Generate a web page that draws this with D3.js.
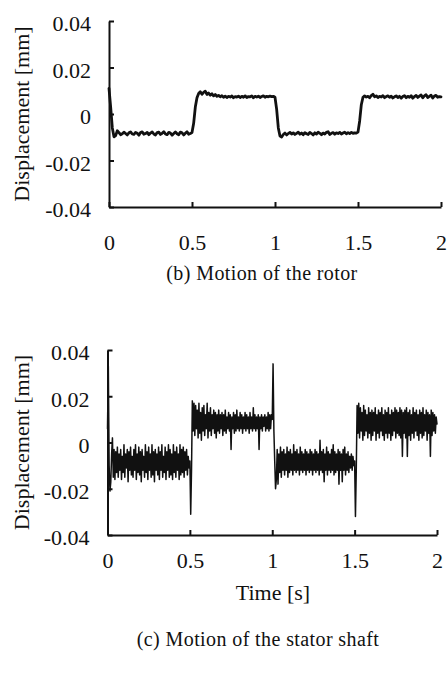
<!DOCTYPE html>
<html>
<head>
<meta charset="utf-8">
<script src="https://cdn.jsdelivr.net/npm/d3@7"></script>
<style>
  html, body { margin: 0; padding: 0; background: #fff; }
  svg { display: block; }
  text { font-family: "Liberation Serif", "Times New Roman", serif; fill: #111; }
</style>
</head>
<body>
<script>
// ---------------- DATA ----------------
const xTicks = [0, 0.5, 1, 1.5, 2];
const xTickLabels = ["0", "0.5", "1", "1.5", "2"];
const yTicks = [0.04, 0.02, 0, -0.02, -0.04];
const yTickLabels = ["0.04", "0.02", "0", "-0.02", "-0.04"];
const yLabel = "Displacement [mm]";
const xLabel = "Time [s]";
const captionB = "(b) Motion of the rotor";
const captionC = "(c) Motion of the stator shaft";

// (b) rotor displacement [mm], sampled every 0.01 s from 0 to 2 s
const rotorStep = 0.01;
const rotorValues = [
  0.011, 0.003, -0.006, -0.0098, -0.0093, -0.0072, -0.0080, -0.0089, -0.0085, -0.0078,
  -0.0084, -0.0090, -0.0081, -0.0077, -0.0086, -0.0088, -0.0079, -0.0083, -0.0091, -0.0080,
  -0.0077, -0.0087, -0.0084, -0.0079, -0.0089, -0.0082, -0.0077, -0.0086, -0.0090, -0.0080,
  -0.0078, -0.0088, -0.0083, -0.0076, -0.0086, -0.0089, -0.0079, -0.0082, -0.0091, -0.0084,
  -0.0077, -0.0085, -0.0089, -0.0078, -0.0081, -0.0090, -0.0083, -0.0076, -0.0087, -0.0084,
  -0.0080, -0.0040, 0.0030, 0.0070, 0.0088, 0.0096, 0.0085, 0.0093, 0.0098, 0.0084,
  0.0090, 0.0081, 0.0087, 0.0078, 0.0084, 0.0076, 0.0080, 0.0074, 0.0079, 0.0072,
  0.0077, 0.0071, 0.0076, 0.0073, 0.0078, 0.0070, 0.0075, 0.0073, 0.0077, 0.0071,
  0.0076, 0.0072, 0.0078, 0.0071, 0.0075, 0.0074, 0.0078, 0.0070, 0.0076, 0.0073,
  0.0077, 0.0071, 0.0075, 0.0078, 0.0072, 0.0076, 0.0074, 0.0077, 0.0075, 0.0076,
  0.0072, 0.0020, -0.0060, -0.0095, -0.0099, -0.0088, -0.0082, -0.0090, -0.0084, -0.0079,
  -0.0086, -0.0081, -0.0088, -0.0083, -0.0078, -0.0087, -0.0082, -0.0089, -0.0080, -0.0085,
  -0.0088, -0.0079, -0.0084, -0.0090, -0.0081, -0.0086, -0.0078, -0.0083, -0.0089, -0.0082,
  -0.0086, -0.0079, -0.0076, -0.0088, -0.0083, -0.0080, -0.0087, -0.0081, -0.0084, -0.0079,
  -0.0086, -0.0082, -0.0078, -0.0085, -0.0080, -0.0084, -0.0079, -0.0083, -0.0081, -0.0082,
  -0.0078, -0.0030, 0.0040, 0.0072, 0.0078, 0.0073, 0.0076, 0.0070, 0.0079, 0.0085,
  0.0074, 0.0078, 0.0071, 0.0076, 0.0073, 0.0079, 0.0070, 0.0075, 0.0078, 0.0072,
  0.0077, 0.0069, 0.0074, 0.0078, 0.0071, 0.0076, 0.0068, 0.0075, 0.0079, 0.0070,
  0.0076, 0.0072, 0.0079, 0.0068, 0.0075, 0.0080, 0.0071, 0.0077, 0.0082, 0.0070,
  0.0078, 0.0083, 0.0071, 0.0076, 0.0081, 0.0069, 0.0077, 0.0080, 0.0072, 0.0075,
  0.0074
];

// (c) stator shaft displacement [mm], sampled every 0.005 s from 0 to 2 s
const statorStep = 0.005;
const statorValues = [
  0.006, 0.033, -0.010, -0.021, -0.017, -0.005, 0.002, -0.015, -0.003, -0.016, -0.004, -0.013, -0.002, -0.015, -0.005, -0.012, -0.003, -0.016, -0.006, -0.013,
  -0.001, -0.015, -0.005, -0.011, -0.003, -0.017, -0.004, -0.012, -0.002, -0.014, -0.006, -0.015, -0.003, -0.012, -0.001, -0.016, -0.005, -0.013, -0.002, -0.014,
  -0.004, -0.017, -0.003, -0.012, -0.006, -0.015, -0.001, -0.013, -0.004, -0.016, -0.002, -0.012, -0.005, -0.015, -0.001, -0.014, -0.004, -0.017, -0.003, -0.012,
  -0.005, -0.014, -0.002, -0.016, -0.004, -0.012, -0.001, -0.015, -0.006, -0.013, -0.002, -0.016, -0.004, -0.012, -0.001, -0.015, -0.003, -0.014, -0.005, -0.016,
  -0.001, -0.013, -0.004, -0.015, -0.002, -0.012, -0.005, -0.016, -0.001, -0.014, -0.003, -0.013, -0.002, -0.015, -0.004, -0.012, -0.003, -0.014, -0.006, -0.011,
  -0.008, -0.031, -0.012, 0.018, 0.005, 0.017, 0.003, 0.016, 0.006, 0.014, 0.002, 0.017, 0.004, 0.013, 0.001, 0.015, 0.005, 0.016, 0.003, 0.012,
  0.006, 0.017, 0.002, 0.013, 0.005, 0.015, 0.003, 0.012, 0.006, 0.014, 0.004, 0.013, 0.002, 0.012, 0.005, 0.014, 0.004, 0.012, 0.006, 0.013,
  0.003, 0.012, 0.005, 0.014, 0.004, 0.011, 0.006, 0.013, 0.005, 0.012, -0.003, 0.011, 0.006, 0.013, 0.004, 0.012, 0.005, 0.014, 0.006, 0.011,
  0.005, 0.013, 0.006, 0.012, 0.004, 0.011, 0.006, 0.013, 0.005, 0.012, 0.006, 0.011, 0.004, 0.013, 0.006, 0.011, 0.005, 0.015, 0.006, 0.012,
  0.005, 0.011, 0.006, 0.012, -0.003, 0.011, 0.006, 0.012, 0.005, 0.011, 0.007, 0.012, 0.005, 0.011, 0.006, 0.013, 0.005, 0.012, 0.006, 0.012,
  0.010, 0.034, 0.005, -0.008, -0.020, -0.016, -0.003, -0.018, -0.005, -0.013, -0.002, -0.015, -0.004, -0.012, -0.003, -0.014, -0.005, -0.012, -0.002, -0.015,
  -0.004, -0.013, -0.003, -0.012, -0.005, -0.014, -0.001, -0.012, -0.004, -0.013, -0.003, -0.012, -0.005, -0.014, -0.002, -0.012, -0.004, -0.013, -0.005, -0.012,
  -0.003, -0.014, -0.004, -0.012, -0.005, -0.013, -0.003, -0.012, -0.004, -0.014, -0.005, -0.012, -0.003, -0.013, -0.004, -0.012, -0.005, -0.014, 0.001, -0.012,
  -0.004, -0.013, -0.003, -0.017, -0.005, -0.012, -0.002, -0.014, -0.004, -0.012, -0.005, -0.013, -0.003, -0.012, -0.001, -0.014, -0.004, -0.013, -0.005, -0.012,
  -0.003, -0.018, -0.004, -0.012, -0.005, -0.017, -0.003, -0.012, -0.002, -0.014, -0.005, -0.012, -0.004, -0.013, -0.006, -0.011, -0.005, -0.012, -0.006, -0.010,
  -0.008, -0.032, -0.012, 0.016, 0.004, 0.017, 0.002, 0.015, 0.005, 0.013, 0.001, 0.016, 0.003, 0.014, 0.005, 0.012, 0.002, 0.015, 0.004, 0.013,
  0.001, 0.014, 0.003, 0.013, 0.005, 0.015, 0.001, 0.012, 0.004, 0.014, 0.002, 0.013, 0.005, 0.015, 0.003, 0.012, 0.001, 0.014, 0.004, 0.013,
  0.002, 0.015, 0.004, 0.012, 0.001, 0.014, 0.003, 0.013, 0.005, 0.015, 0.002, 0.014, 0.004, 0.013, 0.003, 0.015, 0.002, 0.014, -0.006, 0.013,
  0.004, 0.014, 0.002, 0.015, -0.006, 0.013, 0.003, 0.014, 0.001, 0.012, 0.004, 0.015, 0.002, 0.013, 0.005, 0.014, 0.003, 0.012, 0.001, 0.014,
  0.004, 0.013, 0.002, 0.015, 0.003, 0.012, 0.005, 0.014, 0.001, 0.013, 0.004, 0.012, -0.006, 0.014, 0.003, 0.013, 0.005, 0.012, 0.004, 0.011,
  0.008
];

// ---------------- DRAW ----------------
const W = 448, H = 673;
const svg = d3.select("body").append("svg").attr("width", W).attr("height", H);
svg.append("rect").attr("width", W).attr("height", H).attr("fill", "#fff");

function panel(cfg) {
  const x = d3.scaleLinear().domain([0, 2]).range([cfg.x0, cfg.x1]);
  const y = d3.scaleLinear().domain([-0.04, 0.04]).range([cfg.y1, cfg.y0]);
  const g = svg.append("g");

  const data = cfg.values.map((v, i) => [i * cfg.step, v]);
  g.append("path")
    .datum(data)
    .attr("fill", "none")
    .attr("stroke", "#111")
    .attr("stroke-width", cfg.lw)
    .attr("stroke-linejoin", "round")
    .attr("stroke-linecap", "round")
    .attr("d", d3.line().x(d => x(d[0])).y(d => y(d[1])));

  // y axis
  const ya = g.append("g").attr("transform", `translate(${cfg.x0},0)`)
    .call(d3.axisLeft(y).tickValues(yTicks).tickSize(-5).tickSizeOuter(0)
      .tickPadding(18).tickFormat((d, i) => yTickLabels[i]));
  // x axis
  const xa = g.append("g").attr("transform", `translate(0,${cfg.y1})`)
    .call(d3.axisBottom(x).tickValues(xTicks).tickSize(-5).tickSizeOuter(0)
      .tickFormat((d, i) => xTickLabels[i]));
  [ya, xa].forEach(a => {
    a.select(".domain").attr("stroke", "#111").attr("stroke-width", 2);
    a.selectAll(".tick line").attr("stroke", "#111").attr("stroke-width", 2);
    a.selectAll("text").style("font-family", '"Liberation Serif", serif')
      .style("font-size", "22px").attr("fill", "#111");
  });
  ya.selectAll("text").attr("dy", "0.45em");
  xa.selectAll("text").attr("y", cfg.xLabelOffset).attr("dy", 0);

  // y label
  svg.append("text")
    .attr("transform", `translate(${cfg.labelX},${(cfg.y0 + cfg.y1) / 2}) rotate(-90)`)
    .attr("text-anchor", "middle")
    .style("font-size", "22px")
    .text(yLabel);
}

panel({ x0: 109, x1: 441, y0: 21, y1: 207, values: rotorValues, step: rotorStep, lw: 2.8, labelX: 29, xLabelOffset: 43 });
panel({ x0: 107.5, x1: 437, y0: 350, y1: 535, values: statorValues, step: statorStep, lw: 1.5, labelX: 29, xLabelOffset: 33 });

svg.append("text").attr("x", 262).attr("y", 280).attr("text-anchor", "middle")
  .style("font-size", "20px").style("letter-spacing", "0.4px").text(captionB);
svg.append("text").attr("x", 273).attr("y", 600).attr("text-anchor", "middle")
  .style("font-size", "22px").text(xLabel);
svg.append("text").attr("x", 258).attr("y", 646).attr("text-anchor", "middle")
  .style("font-size", "20px").style("letter-spacing", "0.4px").text(captionC);
</script>
</body>
</html>
